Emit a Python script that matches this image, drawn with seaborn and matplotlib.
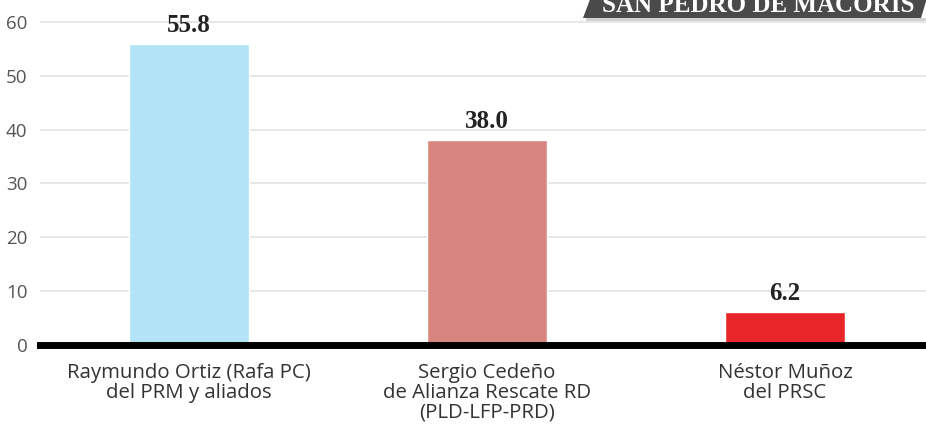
import matplotlib
matplotlib.use("Agg")
import matplotlib.pyplot as plt
import seaborn as sns
import pandas as pd
from matplotlib.patches import Polygon

candidates = ["Raymundo Ortiz (Rafa PC)\ndel PRM y aliados",
              "Sergio Cedeño\nde Alianza Rescate RD\n(PLD-LFP-PRD)",
              "Néstor Muñoz\ndel PRSC"]
values = [55.8, 38.0, 6.2]
value_labels = ["55.8", "38.0", "6.2"]
colors = ["#b3e3f7", "#d8857f", "#e8262a"]
yticks = [0, 10, 20, 30, 40, 50, 60]
title = "SAN PEDRO DE MACORIS"

sns.set_theme(style="white")
plt.rcParams['font.family'] = ['Open Sans', 'DejaVu Sans']

W, H = 926, 430
fig = plt.figure(figsize=(W / 100, H / 100), dpi=100)
left, right, top, bottom = 40, 926, 11, 345
ax = fig.add_axes([left / W, (H - bottom) / H, (right - left) / W, (bottom - top) / H])

df = pd.DataFrame({"cand": candidates, "val": values})
sns.barplot(data=df, x="cand", y="val", hue="cand", palette=colors, legend=False,
            width=0.4, ax=ax, saturation=1, zorder=3)

ax.set_xlim(-0.5, 2.473)
ax.set_ylim(0, 62)
ax.set_yticks(yticks)
ax.grid(axis="y", color="#e3e3e3", linewidth=1.2, zorder=0)
ax.grid(axis="x", visible=False)
for s in ["top", "right", "left"]:
    ax.spines[s].set_visible(False)
ax.spines["bottom"].set_color("black")
ax.spines["bottom"].set_linewidth(5)
ax.spines["bottom"].set_zorder(5)
ax.set_xlabel("")
ax.set_ylabel("")
ax.tick_params(axis="y", length=0, pad=9, labelsize=13.5, labelcolor="#555555")
ax.tick_params(axis="x", length=0, pad=13, labelsize=14.7, labelcolor="#333333")
ax.set_xticks(range(len(candidates)))
ax.set_xticklabels(candidates, linespacing=0.97)
ax.set_yticklabels([str(t) for t in yticks])

for i, (v, t) in enumerate(zip(values, value_labels)):
    ax.text(i, v + 1.3, t, ha="center", va="bottom", fontsize=18, fontweight="bold",
            family=["Liberation Serif", "DejaVu Serif"], color="#222222", zorder=6)

# title banner (parallelogram, cut at top)
x0, x1 = 583 / W, 921 / W
y_bot = 1 - 18 / H
y_top = 1.02
poly = Polygon([(x0, y_bot), (x0 + 10 / W, y_top), (x1 + 8 / W, y_top), (x1, y_bot)],
               closed=True, transform=fig.transFigure, facecolor="#4a4a4a",
               edgecolor="none", zorder=10)
fig.patches.append(poly)
shadow = Polygon([(x0 + 3 / W, y_bot - 3 / H), (x0 + 3 / W, y_bot), (1.0, y_bot), (1.0, y_bot - 3 / H)],
                 closed=True, transform=fig.transFigure, facecolor="#d0d0d0",
                 edgecolor="none", zorder=9)
fig.patches.append(shadow)
fig.text(758 / W, 1 - 6 / H, title, ha="center", va="center",
         fontsize=18, fontweight="bold", family=["Liberation Serif", "DejaVu Serif"],
         color="white", zorder=11)

fig.savefig("out.png", dpi=100)
